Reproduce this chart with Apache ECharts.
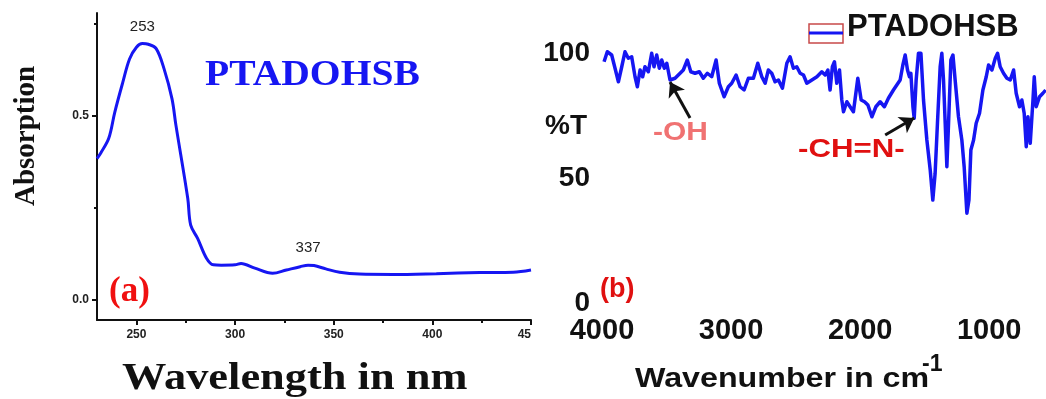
<!DOCTYPE html>
<html>
<head>
<meta charset="utf-8">
<script src="https://cdn.jsdelivr.net/npm/echarts@6/dist/echarts.min.js"></script>
<style>
  html, body { margin: 0; padding: 0; background: #fff; }
  #chart { width: 1046px; height: 399px; }
</style>
</head>
<body>
<div id="chart"></div>
<script>
// (a) UV-Vis absorption spectrum
var uvWavelength = [230, 232, 236, 239, 243, 246.5, 250, 253, 256, 260, 264, 268, 270, 276, 277.5, 281, 285.5, 289, 293, 300, 303, 310, 319, 326, 333, 337, 340, 346, 353, 363, 380, 402, 424, 441, 450];
var uvAbsorption = [0.384, 0.40, 0.44, 0.51, 0.59, 0.655, 0.687, 0.697, 0.695, 0.683, 0.628, 0.547, 0.475, 0.276, 0.203, 0.167, 0.113, 0.095, 0.094, 0.095, 0.099, 0.086, 0.072, 0.081, 0.09, 0.094, 0.093, 0.084, 0.075, 0.07, 0.069, 0.071, 0.074, 0.075, 0.081];
var uvTickValues = [250, 300, 350, 400, 450];
var uvTickLabels = ["250", "300", "350", "400", "45"];
var uvMinorTicks = [275, 325, 375, 425];
var absTickValues = [0, 0.5];
var absMinorTicks = [0.25, 0.75];
var uvPeaks = [[253, 0.697, "253"], [337, 0.094, "337"]];

// (b) FT-IR spectrum
var irWavenumber = [
  3984, 3959, 3925, 3899, 3873, 3847, 3822, 3796, 3770, 3744, 3726, 3705, 3685, 3667, 3641, 3615, 3597, 3576, 3556, 3537, 3517,
  3498, 3473, 3434, 3395, 3370, 3339, 3312, 3279, 3246, 3215, 3184, 3150, 3116, 3091, 3054, 3021, 2995, 2961, 2930, 2899, 2866,
  2853, 2827, 2793, 2762, 2736, 2711, 2685, 2659, 2633, 2602, 2568, 2543, 2517, 2491, 2465, 2439, 2413, 2374, 2335, 2297, 2271,
  2250, 2233, 2215, 2199, 2181, 2160, 2142, 2129, 2103, 2078, 2052, 2018, 1992, 1966, 1940, 1909, 1878, 1845, 1812, 1781, 1742,
  1729, 1690, 1669, 1651, 1633, 1618, 1607, 1591, 1581, 1566, 1548, 1529, 1509, 1483, 1457, 1437, 1419, 1401, 1380, 1367,
  1354, 1341, 1328, 1315, 1297, 1281, 1264, 1238, 1212, 1194, 1173, 1157, 1142, 1121, 1101, 1075, 1049, 1023, 1005, 979,
  953, 935, 915, 889, 863, 837, 811, 791, 765, 747, 729, 713, 700, 682, 661, 651, 636, 610, 584, 563
];
var irTransmittance = [
  96.5, 100.5, 99.2, 93.9, 88.5, 94.5, 100.5, 97.9, 98.5, 90.5, 86.5, 93.2, 90.5, 94.5, 92.5, 99.9, 94.5, 99.2, 93.9, 97.2, 93.9,
  95.9, 89.2, 89.9, 91.9, 93.2, 97.2, 92.5, 91.9, 92.5, 89.9, 91.9, 90.5, 97.2, 87.9, 82.5, 86.5, 87.9, 91.2, 86.5, 85.2, 89.9,
  90.5, 89.9, 95.9, 90.5, 87.9, 93.2, 91.9, 88.5, 89.2, 85.9, 95.9, 98.5, 93.9, 94.5, 91.9, 91.2, 87.9, 89.2, 90.5, 92.5, 91.2,
  93.2, 85.2, 94.5, 96.5, 87.9, 93.2, 81.2, 76.5, 80.5, 78.5, 76.5, 89.9, 81.2, 80.5, 79.2, 74.5, 78.5, 80.5, 78.5, 81.9, 85.2,
  85.2, 89.2, 95.2, 99.2, 93.2, 90.5, 91.9, 78.5, 73.9, 89.2, 99.9, 99.9, 81.2, 65.2, 53.2, 41.2, 51.9, 71.9, 94.5, 99.9,
  89.2, 71.9, 54.5, 71.9, 97.2, 99.2, 89.2, 74.5, 65.2, 54.5, 35.9, 41.2, 61.2, 65.2, 71.9, 75.9, 85.2, 90.5, 95.2, 93.2,
  97.9, 99.9, 94.5, 91.9, 89.9, 89.2, 93.2, 83.9, 78.5, 81.2, 75.9, 62.5, 74.5, 63.9, 81.2, 90.5, 78.5, 82.5, 83.9, 85.2
];
var irTickValues = [4000, 3000, 2000, 1000];
var tTickValues = [0, 50, 100];
// arrows: [tail wavenumber, tail %T, head wavenumber, head %T]
var irArrows = [[3318, 74, 3473, 88.4], [1806, 67.2, 1581, 74]];

var blue = "#1616f2";
var sans = "Liberation Sans, Arial, sans-serif";
var serif = "Liberation Serif, Times New Roman, serif";

function pairs(xs, ys) {
  return xs.map(function (x, i) { return [x, ys[i]]; });
}

var chart = echarts.init(document.getElementById("chart"));

var option = {
  animation: false,
  backgroundColor: "#fff",
  grid: [
    { left: 97, top: 13, width: 434, height: 307, outerBoundsMode: "none" },
    { left: 602, top: 40.5, width: 444, height: 262.5, outerBoundsMode: "none" }
  ],
  xAxis: [
    {
      gridIndex: 0, type: "value", min: 230, max: 450, position: "bottom",
      axisLine: { onZero: false, lineStyle: { color: "#111", width: 2 } },
      axisTick: { customValues: uvTickValues, length: 5, lineStyle: { color: "#111", width: 2 } },
      axisLabel: {
        customValues: uvTickValues,
        formatter: function (v) { return uvTickLabels[uvTickValues.indexOf(v)]; },
        alignMaxLabel: "right",
        color: "#222", fontFamily: sans, fontWeight: "bold", fontSize: 12, margin: 9
      },
      splitLine: { show: false }
    },
    {
      // minor ticks of (a)
      gridIndex: 0, type: "value", min: 230, max: 450, position: "bottom",
      axisLine: { show: false, onZero: false },
      axisTick: { customValues: uvMinorTicks, length: 3, lineStyle: { color: "#111", width: 2 } },
      axisLabel: { show: false },
      splitLine: { show: false }
    },
    {
      gridIndex: 1, type: "value", min: 560, max: 4000, inverse: true, position: "bottom",
      axisLine: { show: false, onZero: false },
      axisTick: { show: false },
      axisLabel: {
        customValues: irTickValues,
        formatter: function (v) { return String(v); },
        color: "#111", fontFamily: sans, fontWeight: "bold", fontSize: 29, margin: 13
      },
      splitLine: { show: false }
    }
  ],
  yAxis: [
    {
      gridIndex: 0, type: "value", min: -0.055, max: 0.78, position: "left",
      axisLine: { show: true, onZero: false, lineStyle: { color: "#111", width: 2 } },
      axisTick: { show: true, customValues: absTickValues, length: 5, lineStyle: { color: "#111", width: 2 } },
      axisLabel: {
        customValues: absTickValues,
        formatter: function (v) { return v.toFixed(1); },
        color: "#222", fontFamily: sans, fontWeight: "bold", fontSize: 12, margin: 8
      },
      splitLine: { show: false }
    },
    {
      // minor ticks of (a)
      gridIndex: 0, type: "value", min: -0.055, max: 0.78, position: "left",
      axisLine: { show: false, onZero: false },
      axisTick: { show: true, customValues: absMinorTicks, length: 3, lineStyle: { color: "#111", width: 2 } },
      axisLabel: { show: false },
      splitLine: { show: false }
    },
    {
      gridIndex: 1, type: "value", min: 0, max: 105, position: "left",
      axisLine: { show: false, onZero: false },
      axisTick: { show: false },
      axisLabel: {
        customValues: tTickValues,
        color: "#111", fontFamily: sans, fontWeight: "bold", fontSize: 28, margin: 12
      },
      splitLine: { show: false }
    }
  ],
  series: [
    {
      type: "line", name: "UV", xAxisIndex: 0, yAxisIndex: 0,
      data: pairs(uvWavelength, uvAbsorption),
      smooth: 0.35, showSymbol: false,
      lineStyle: { color: blue, width: 3 },
      markPoint: {
        symbol: "circle", symbolSize: 1,
        itemStyle: { color: "rgba(0,0,0,0)" },
        label: { show: true, position: "top", distance: 9, color: "#222", fontFamily: sans, fontSize: 15, formatter: "{c}" },
        data: uvPeaks.map(function (p) { return { coord: [p[0], p[1]], value: p[2] }; })
      }
    },
    {
      type: "line", name: "PTADOHSB", xAxisIndex: 2, yAxisIndex: 2,
      data: pairs(irWavenumber, irTransmittance),
      smooth: false, showSymbol: false,
      lineStyle: { color: blue, width: 3.5, join: "round" },
      markLine: {
        silent: true,
        symbol: ["none", "arrow"], symbolSize: 14,
        lineStyle: { color: "#111", width: 3, type: "solid" },
        label: { show: false },
        data: irArrows.map(function (a) { return [{ coord: [a[0], a[1]] }, { coord: [a[2], a[3]] }]; })
      }
    }
  ],
  graphic: [
    // panel (a) texts
    { type: "text", x: 12, y: 206, rotation: Math.PI / 2, style: { text: "Absorption", fill: "#111", font: "bold 29px " + serif, align: "left", verticalAlign: "top" } },
    { type: "text", x: 122, y: 361, scaleX: 1.2, style: { text: "Wavelength in nm", fill: "#111", font: "bold 37px " + serif } },
    { type: "text", x: 205, y: 58, scaleX: 1.1, style: { text: "PTADOHSB", fill: blue, font: "bold 36px " + serif } },
    { type: "text", x: 109, y: 274, style: { text: "(a)", fill: "#f01010", font: "bold 35px " + serif } },
    // panel (b) texts
    { type: "rect", shape: { x: 809, y: 24, width: 34, height: 19 }, style: { fill: "none", stroke: "#c84a4a", lineWidth: 1.5 } },
    { type: "line", shape: { x1: 809, y1: 33, x2: 843, y2: 33 }, style: { stroke: blue, lineWidth: 3 } },
    { type: "text", x: 847, y: 12, style: { text: "PTADOHSB", fill: "#111", font: "bold 31px " + sans } },
    { type: "text", x: 545, y: 112, style: { text: "%T", fill: "#111", font: "bold 28px " + sans } },
    { type: "text", x: 653, y: 120, scaleX: 1.15, style: { text: "-OH", fill: "#f07272", font: "bold 26px " + sans } },
    { type: "text", x: 798, y: 137, scaleX: 1.2, style: { text: "-CH=N-", fill: "#e01010", font: "bold 26px " + sans } },
    { type: "text", x: 600, y: 276, style: { text: "(b)", fill: "#e01010", font: "bold 27px " + sans } },
    { type: "text", x: 635, y: 365, scaleX: 1.15, style: { text: "Wavenumber in cm", fill: "#111", font: "bold 28px " + sans } },
    { type: "text", x: 922, y: 353, style: { text: "-1", fill: "#111", font: "bold 23px " + sans } }
  ]
};

chart.setOption(option);
</script>
</body>
</html>
